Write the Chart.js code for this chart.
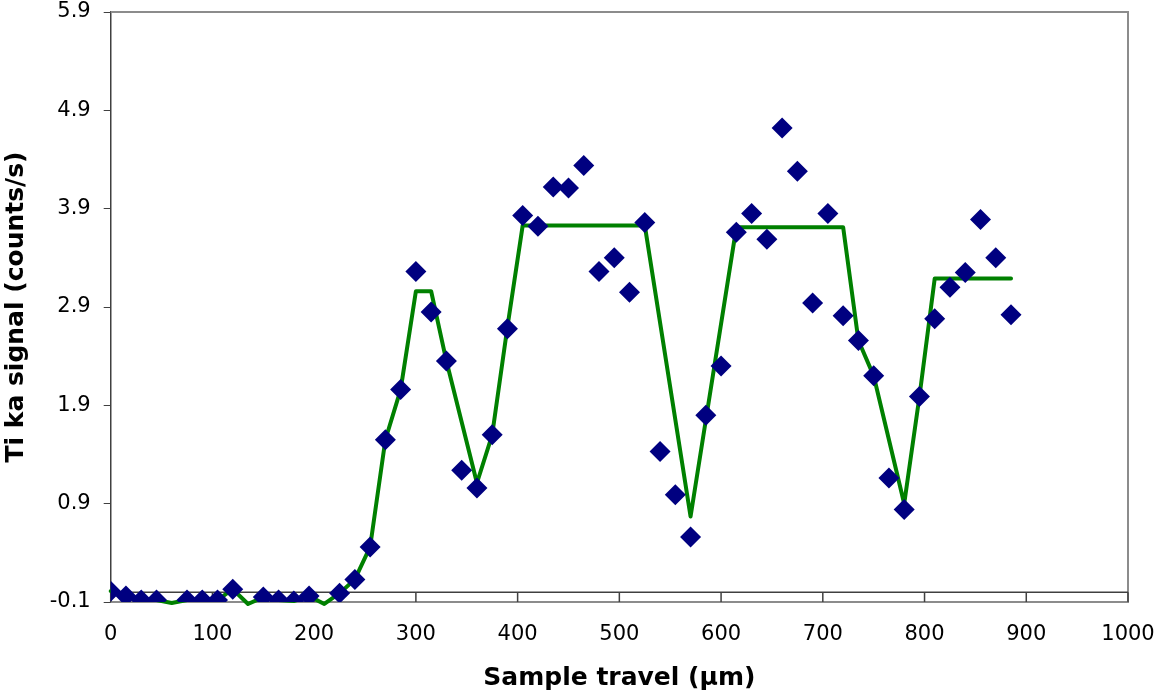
<!DOCTYPE html>
<html>
<head>
<meta charset="utf-8">
<title>Ti ka signal vs sample travel</title>
<script src="https://cdn.jsdelivr.net/npm/chart.js@4.4.1/dist/chart.umd.min.js"></script>
<style>
  html, body { margin: 0; padding: 0; background: #fff; }
  #wrap { width: 1160px; height: 695px; }
</style>
</head>
<body>
<div id="wrap"><canvas id="chart" width="1160" height="695"></canvas></div>
<script>
// measured points (diamonds), 15 um steps; points at 60, 135, 210 fall below the axis and are not shown
const travel = [0, 15, 30, 45, 75, 90, 105, 120, 150, 165, 180, 195, 225, 240, 255, 270, 285, 300,
  315, 330, 345, 360, 375, 390, 405, 420, 435, 450, 465, 480, 495, 510, 525, 540, 555, 570, 585,
  600, 615, 630, 645, 660, 675, 690, 705, 720, 735, 750, 765, 780, 795, 810, 825, 840, 855, 870, 885];
const signal = [0.01, -0.04, -0.08, -0.08, -0.08, -0.08, -0.08, 0.03, -0.05, -0.08, -0.09, -0.04,
  -0.01, 0.13, 0.46, 1.55, 2.06, 3.26, 2.85, 2.35, 1.24, 1.06, 1.60, 2.68, 3.83, 3.72, 4.12, 4.11,
  4.34, 3.26, 3.40, 3.05, 3.76, 1.43, 0.99, 0.56, 1.80, 2.30, 3.66, 3.85, 3.59, 4.72, 4.28, 2.94,
  3.85, 2.81, 2.56, 2.20, 1.16, 0.84, 1.99, 2.78, 3.10, 3.25, 3.79, 3.40, 2.82];

// green model line, vertices
const modelX = [0, 15, 30, 45, 60, 75, 90, 105, 120, 135, 150, 165, 180, 195, 210, 225, 240, 255,
  270, 285, 300, 315, 330, 360, 375, 390, 405, 525, 570, 615, 720, 735, 750, 780, 795, 810, 885];
const modelY = [0.01, -0.04, -0.08, -0.08, -0.11, -0.08, -0.08, -0.08, 0.03, -0.12, -0.05, -0.08,
  -0.09, -0.04, -0.12, -0.01, 0.13, 0.46, 1.55, 2.06, 3.06, 3.06, 2.35, 1.11, 1.60, 2.70, 3.73,
  3.73, 0.77, 3.71, 3.71, 2.56, 2.20, 0.90, 1.99, 3.19, 3.19];

const xTicks = [0, 100, 200, 300, 400, 500, 600, 700, 800, 900, 1000];
const yTicks = [-0.1, 0.9, 1.9, 2.9, 3.9, 4.9, 5.9];

const tickFont = { family: 'DejaVu Sans', size: 21 };
const titleFont = { family: 'DejaVu Sans', size: 25, weight: 'bold' };

// Excel style frame: grey plot border, x axis crossing at y = 0 with ticks hanging down
const excelFrame = {
  id: 'excelFrame',
  beforeDatasetsDraw(chart) {
    const { ctx, chartArea: a, scales: { x, y } } = chart;
    ctx.save();
    ctx.strokeStyle = '#8c8c8c';
    ctx.lineWidth = 2;
    ctx.beginPath();
    ctx.moveTo(a.left, a.top);
    ctx.lineTo(a.right, a.top);
    ctx.lineTo(a.right, a.bottom);
    ctx.lineTo(a.left, a.bottom);
    ctx.stroke();

    const y0 = y.getPixelForValue(0);
    ctx.strokeStyle = '#404040';
    ctx.lineWidth = 1.5;
    ctx.beginPath();
    ctx.moveTo(a.left, y0);
    ctx.lineTo(a.right, y0);
    x.ticks.forEach(t => {
      const px = x.getPixelForValue(t.value);
      ctx.moveTo(px, y0);
      ctx.lineTo(px, a.bottom);
    });
    ctx.stroke();
    ctx.restore();
  }
};

new Chart(document.getElementById('chart'), {
  type: 'scatter',
  data: {
    datasets: [
      {
        label: 'Ti ka signal',
        data: travel.map((t, i) => ({ x: t, y: signal[i] })),
        pointStyle: 'rectRot',
        pointRadius: 10.5,
        pointBorderWidth: 0,
        backgroundColor: '#000080',
        borderColor: '#000080',
        order: 0
      },
      {
        label: 'model',
        data: modelX.map((t, i) => ({ x: t, y: modelY[i] })),
        showLine: true,
        pointRadius: 0,
        borderColor: '#008000',
        borderWidth: 4,
        borderJoinStyle: 'round',
        borderCapStyle: 'round',
        clip: false,
        order: 1
      }
    ]
  },
  options: {
    responsive: false,
    animation: false,
    events: [],
    layout: { autoPadding: false, padding: { left: 0, right: 32, top: 12, bottom: 0 } },
    plugins: {
      legend: { display: false },
      tooltip: { enabled: false }
    },
    scales: {
      x: {
        type: 'linear',
        position: 'bottom',
        min: 0,
        max: 1000,
        afterBuildTicks: s => { s.ticks = xTicks.map(v => ({ value: v })); },
        afterFit: s => { s.height = 93; s.paddingLeft = 0; s.paddingRight = 0; },
        grid: { display: false },
        border: { display: false },
        ticks: { font: tickFont, color: '#000', padding: 12, maxRotation: 0, callback: v => String(v) },
        title: {
          display: true,
          text: 'Sample travel (µm)',
          font: titleFont,
          color: '#000',
          padding: { top: 0, bottom: 2 }
        }
      },
      y: {
        type: 'linear',
        position: 'left',
        min: -0.1,
        max: 5.9,
        afterBuildTicks: s => { s.ticks = yTicks.map(v => ({ value: v })); },
        afterFit: s => { s.width = 110.7; s.paddingTop = 0; s.paddingBottom = 0; },
        grid: { drawOnChartArea: false, tickLength: 7, color: '#404040', lineWidth: 1 },
        border: { display: true, color: '#404040', width: 1.5 },
        ticks: {
          font: tickFont,
          color: '#000',
          padding: 13,
          callback: v => v.toFixed(1)
        },
        title: {
          display: true,
          text: 'Ti ka signal (counts/s)',
          font: titleFont,
          color: '#000',
          padding: { top: 1.5, bottom: 0 }
        }
      }
    }
  },
  plugins: [excelFrame]
});
</script>
</body>
</html>
